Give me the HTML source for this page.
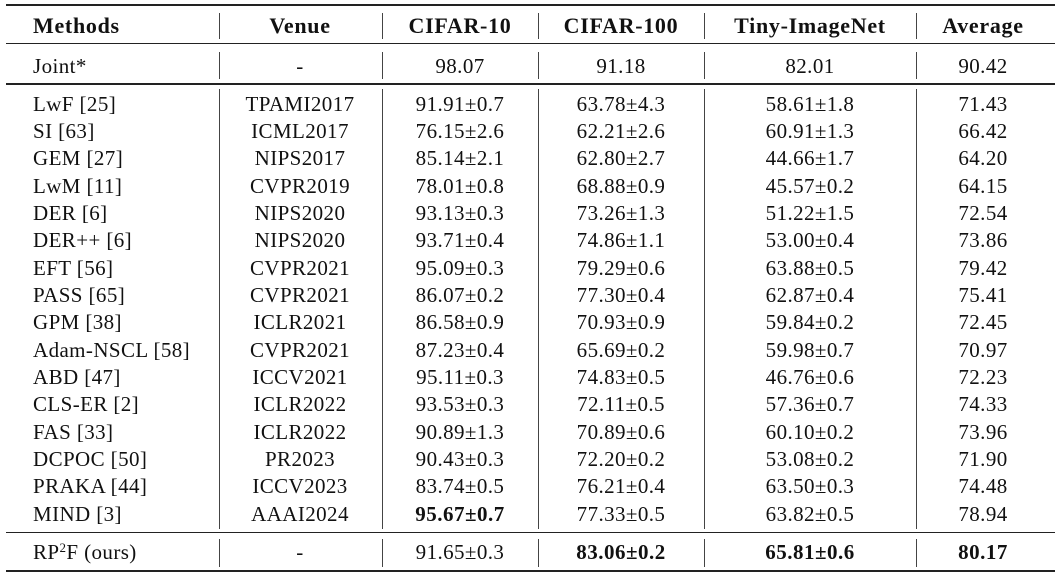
<!DOCTYPE html>
<html><head><meta charset="utf-8"><style>
body{margin:0;width:1060px;height:576px;background:#fff;position:relative;overflow:hidden;font-family:"Liberation Serif",serif;color:#111;font-size:21px;letter-spacing:0.4px}
.h{position:absolute;left:6px;width:1049px;background:#222}
.v{position:absolute;width:1.3px;background:#444}
.c{position:absolute;white-space:nowrap;line-height:20px;transform:translateY(-50%)}
.m{left:33px}
.cc{transform:translate(-50%,-50%)}
b{font-weight:bold;letter-spacing:0.5px}
.hd b{font-size:22px;letter-spacing:0.7px}
sup{font-size:13px;vertical-align:7px;line-height:0}
</style></head><body>
<div class="h" style="top:4px;height:2px"></div>
<div class="h" style="top:43px;height:1.3px"></div>
<div class="h" style="top:83px;height:1.6px"></div>
<div class="h" style="top:532px;height:1.3px"></div>
<div class="h" style="top:570px;height:2px"></div>
<div id="vs"></div>
<div id="t"></div>
<script>
var xs=[219,382,538,704,916],segs=[[13,39],[52,79],[89,529],[539,567]],h='';
xs.forEach(function(x){segs.forEach(function(s){h+='<div class="v" style="left:'+x+'px;top:'+s[0]+'px;height:'+(s[1]-s[0])+'px"></div>';});});
document.getElementById('vs').innerHTML=h;
var cx=[300,460,621,810,983];
var rows=[
[26,'<b>Methods</b>','<b>Venue</b>','<b>CIFAR-10</b>','<b>CIFAR-100</b>','<b>Tiny-ImageNet</b>','<b>Average</b>'],
[66,'Joint*','-','98.07','91.18','82.01','90.42']];
var d=[
['LwF [25]','TPAMI2017','91.91±0.7','63.78±4.3','58.61±1.8','71.43'],
['SI [63]','ICML2017','76.15±2.6','62.21±2.6','60.91±1.3','66.42'],
['GEM [27]','NIPS2017','85.14±2.1','62.80±2.7','44.66±1.7','64.20'],
['LwM [11]','CVPR2019','78.01±0.8','68.88±0.9','45.57±0.2','64.15'],
['DER [6]','NIPS2020','93.13±0.3','73.26±1.3','51.22±1.5','72.54'],
['DER++ [6]','NIPS2020','93.71±0.4','74.86±1.1','53.00±0.4','73.86'],
['EFT [56]','CVPR2021','95.09±0.3','79.29±0.6','63.88±0.5','79.42'],
['PASS [65]','CVPR2021','86.07±0.2','77.30±0.4','62.87±0.4','75.41'],
['GPM [38]','ICLR2021','86.58±0.9','70.93±0.9','59.84±0.2','72.45'],
['Adam-NSCL [58]','CVPR2021','87.23±0.4','65.69±0.2','59.98±0.7','70.97'],
['ABD [47]','ICCV2021','95.11±0.3','74.83±0.5','46.76±0.6','72.23'],
['CLS-ER [2]','ICLR2022','93.53±0.3','72.11±0.5','57.36±0.7','74.33'],
['FAS [33]','ICLR2022','90.89±1.3','70.89±0.6','60.10±0.2','73.96'],
['DCPOC [50]','PR2023','90.43±0.3','72.20±0.2','53.08±0.2','71.90'],
['PRAKA [44]','ICCV2023','83.74±0.5','76.21±0.4','63.50±0.3','74.48'],
['MIND [3]','AAAI2024','<b>95.67±0.7</b>','77.33±0.5','63.82±0.5','78.94']];
d.forEach(function(r,i){rows.push([103.5+27.35*i].concat(r));});
rows.push([551.5,'RP<sup>2</sup>F (ours)','-','91.65±0.3','<b>83.06±0.2</b>','<b>65.81±0.6</b>','<b>80.17</b>']);
h='';
rows.forEach(function(r,k){
var cl=k==0?' hd':'';
h+='<div class="c m'+cl+'" style="top:'+r[0]+'px">'+r[1]+'</div>';
for(var j=0;j<5;j++)h+='<div class="c cc'+cl+'" style="left:'+cx[j]+'px;top:'+r[0]+'px">'+r[j+2]+'</div>';
});
document.getElementById('t').innerHTML=h;
</script>
</body></html>
